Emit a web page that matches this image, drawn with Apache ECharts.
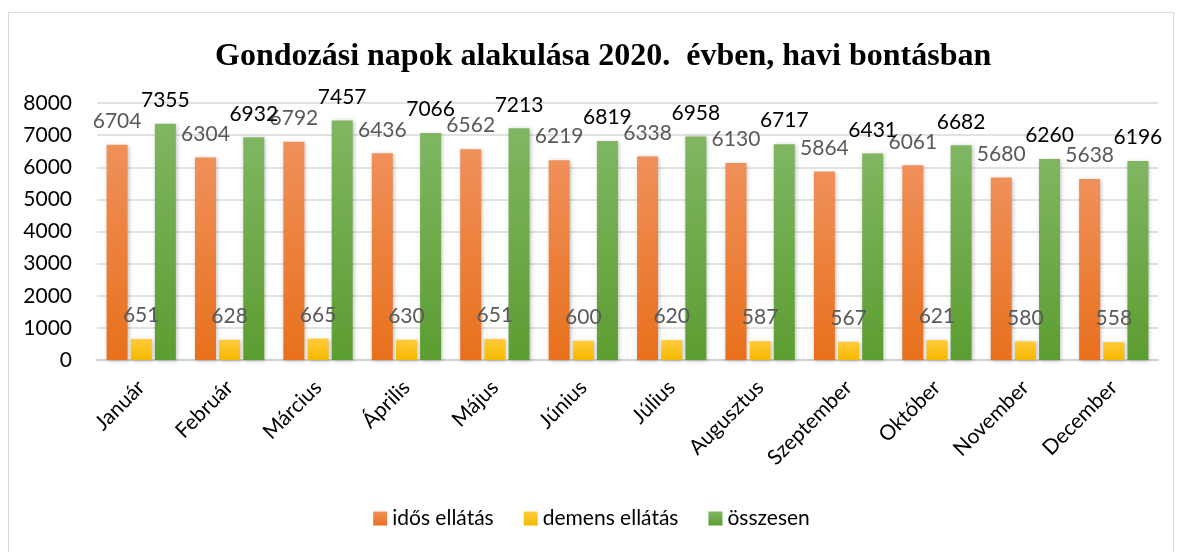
<!DOCTYPE html>
<html>
<head>
<meta charset="utf-8">
<script src="https://cdn.jsdelivr.net/npm/echarts@6/dist/echarts.min.js"></script>
<style>
  html, body { margin: 0; padding: 0; background: #fff; }
  #frame { position: absolute; left: 8px; top: 12px; width: 1166px; height: 545px; border: 1px solid #d9d9d9; box-sizing: border-box; }
  #main { position: absolute; left: 0; top: 0; width: 1183px; height: 552px; }
</style>
</head>
<body>
<div id="frame"></div>
<div id="main"></div>
<script>
var months = ["Január", "Február", "Március", "Április", "Május", "Június", "Július", "Augusztus", "Szeptember", "Október", "November", "December"];
var idos = [6704, 6304, 6792, 6436, 6562, 6219, 6338, 6130, 5864, 6061, 5680, 5638];
var demens = [651, 628, 665, 630, 651, 600, 620, 587, 567, 621, 580, 558];
var osszesen = [7355, 6932, 7457, 7066, 7213, 6819, 6958, 6717, 6431, 6682, 6260, 6196];
var seriesNames = ["idős ellátás", "demens ellátás", "összesen"];

function grad(top, bottom) {
  return new echarts.graphic.LinearGradient(0, 0, 0, 1, [
    { offset: 0, color: top },
    { offset: 1, color: bottom }
  ]);
}

function makeSeries(name, data, top, bottom, labelColor) {
  return {
    name: name,
    type: "bar",
    data: data,
    barWidth: 21,
    barGap: "15%",
    itemStyle: {
      color: grad(top, bottom),
      shadowColor: "rgba(0,0,0,0.25)",
      shadowBlur: 4,
      shadowOffsetX: 1,
      shadowOffsetY: 1
    },
    label: {
      show: true,
      position: "top",
      distance: 13,
      color: labelColor,
      fontSize: 21,
      fontFamily: "Lato"
    }
  };
}

var myChart = echarts.init(document.getElementById("main"));

var option = {
  animation: false,
  title: {
    text: "Gondozási napok alakulása 2020.  évben, havi bontásban",
    left: 210,
    top: 36,
    textStyle: {
      fontFamily: "Liberation Serif",
      fontWeight: "bold",
      fontSize: 32,
      color: "#000"
    }
  },
  legend: {
    bottom: 18,
    left: "center",
    data: seriesNames,
    icon: "rect",
    itemWidth: 14,
    itemHeight: 14,
    itemGap: 30,
    textStyle: { fontFamily: "Lato", fontSize: 21, color: "#000" }
  },
  grid: {
    left: 97,
    right: 25,
    top: 103,
    bottom: 192,
    containLabel: false
  },
  xAxis: {
    type: "category",
    data: months,
    axisLine: { lineStyle: { color: "#d0d0d0", width: 2 } },
    axisTick: { show: false },
    axisLabel: {
      rotate: 45,
      interval: 0,
      fontFamily: "Lato",
      fontSize: 21,
      color: "#000",
      margin: 24
    }
  },
  yAxis: {
    type: "value",
    min: 0,
    max: 8000,
    interval: 1000,
    axisLine: { show: false },
    axisTick: { show: false },
    axisLabel: {
      fontFamily: "Lato",
      fontSize: 21,
      color: "#000",
      margin: 25,
      formatter: function (v) { return String(v); }
    },
    splitLine: { lineStyle: { color: "#d9d9d9", width: 1.5 } }
  },
  series: [
    makeSeries(seriesNames[0], idos, "#F0905A", "#E8701C", "#595959"),
    makeSeries(seriesNames[1], demens, "#FFCB3A", "#F5B800", "#595959"),
    makeSeries(seriesNames[2], osszesen, "#80B662", "#5C9D31", "#000")
  ]
};

myChart.setOption(option);
</script>
</body>
</html>
